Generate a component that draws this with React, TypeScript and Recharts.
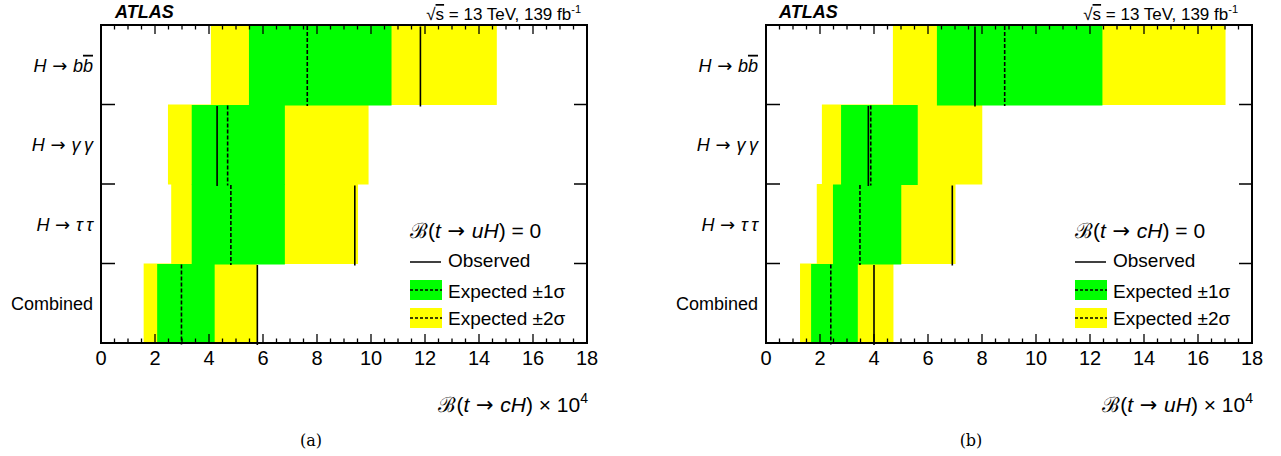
import React from 'react';
import { BarChart, Bar, XAxis, YAxis } from 'recharts';

// channel order, top to bottom
const channels = ['bb', 'gg', 'tt', 'comb'];

// (a) B(t -> cH) x 10^4, with B(t -> uH) = 0
const observedA = [11.83, 4.3, 9.4, 5.79];
const expectedA = [7.64, 4.69, 4.81, 2.98];
const minus1A = [5.48, 3.36, 3.36, 2.08];
const plus1A = [10.76, 6.81, 6.81, 4.21];
const minus2A = [4.07, 2.48, 2.6, 1.58];
const plus2A = [14.66, 9.91, 9.52, 5.79];

// (b) B(t -> uH) x 10^4, with B(t -> cH) = 0
const observedB = [7.74, 3.79, 6.9, 4.0];
const expectedB = [8.84, 3.88, 3.48, 2.4];
const minus1B = [6.33, 2.78, 2.48, 1.67];
const plus1B = [12.46, 5.62, 5.01, 3.4];
const minus2B = [4.7, 2.07, 1.88, 1.26];
const plus2B = [17.02, 8.01, 7.02, 4.72];

const majorTicks = [0, 2, 4, 6, 8, 10, 12, 14, 16, 18];
const minorTicks = Array.from({ length: 37 }, (_, i) => i * 0.5);

const FONT = '"Liberation Sans", Arial, Helvetica, sans-serif';
const GREEN = '#00ff00';
const YELLOW = '#ffff00';

const buildRows = (obs: number[], exp: number[], m1: number[], p1: number[], m2: number[], p2: number[]) =>
  channels.map((name, i) => ({
    name,
    band2: [m2[i], p2[i]],
    band1: [m1[i], p1[i]],
    obs: obs[i],
    exp: exp[i],
  }));

const rowsA = buildRows(observedA, expectedA, minus1A, plus1A, minus2A, plus2A);
const rowsB = buildRows(observedB, expectedB, minus1B, plus1B, minus2B, plus2B);

const it = { fontStyle: 'italic' as const };
const arrow = <tspan fontFamily='"DejaVu Sans", sans-serif'>{' \u2192 '}</tspan>;

const channelLabel = (name: string) => {
  if (name === 'bb')
    return (
      <>
        <tspan style={it}>H</tspan>{arrow}<tspan style={it}>b</tspan>
        <tspan style={{ ...it, textDecoration: 'overline' }}>b</tspan>
      </>
    );
  if (name === 'gg')
    return (
      <>
        <tspan style={it}>H</tspan>{arrow}<tspan style={it}>{'\u03b3\u2009\u03b3'}</tspan>
      </>
    );
  if (name === 'tt')
    return (
      <>
        <tspan style={it}>H</tspan>{arrow}<tspan style={it}>{'\u03c4\u2009\u03c4'}</tspan>
      </>
    );
  return 'Combined';
};

// draws only the far edge of a bar: a vertical line across the whole band
const edge = (dashed: boolean) => (props: any) => {
  const { x, y, width, height } = props;
  const ex = x + width;
  return (
    <line
      x1={ex}
      x2={ex}
      y1={y}
      y2={y + height}
      stroke="#000"
      strokeWidth={1.6}
      strokeDasharray={dashed ? '4 2' : undefined}
    />
  );
};

const BottomTick = (props: any) => {
  const { x, y, payload } = props;
  const major = majorTicks.includes(payload.value);
  return (
    <g>
      <line x1={x} x2={x} y1={y} y2={y - (major ? 9 : 4.5)} stroke="#000" strokeWidth={1.3} />
      {major && (
        <text x={x} y={y + 22} textAnchor="middle" fontSize={20} fontFamily={FONT} fill="#000">
          {payload.value}
        </text>
      )}
    </g>
  );
};

const TopTick = (props: any) => {
  const { x, y, payload } = props;
  const major = majorTicks.includes(payload.value);
  return <line x1={x} x2={x} y1={y} y2={y + (major ? 9 : 4.5)} stroke="#000" strokeWidth={1.3} />;
};

const LeftTick = (props: any) => {
  const { x, y, payload, index } = props;
  const half = payload.offset ?? 39.75;
  return (
    <g>
      {index < channels.length - 1 && (
        <line x1={x} x2={x + 14} y1={y + half} y2={y + half} stroke="#000" strokeWidth={1.5} />
      )}
      <text x={x - 8} y={y + 7} textAnchor="end" fontSize={18} fontFamily={FONT} fill="#000">
        {channelLabel(payload.value)}
      </text>
    </g>
  );
};

const RightTick = (props: any) => {
  const { x, y, payload, index } = props;
  const half = payload.offset ?? 39.75;
  if (index >= channels.length - 1) return <g />;
  return <line x1={x} x2={x - 13} y1={y + half} y2={y + half} stroke="#000" strokeWidth={1.5} />;
};

const axisLine = { stroke: '#000', strokeWidth: 2 };

const Panel = ({ rows, leftWidth, rightWidth, width }: any) => (
  <BarChart
    width={width}
    height={456}
    data={rows}
    layout="vertical"
    barCategoryGap={0}
    barGap="-100%"
    margin={{ top: 0, right: 0, bottom: 0, left: 0 }}
  >
    <XAxis
      xAxisId="bottom"
      type="number"
      domain={[0, 18]}
      allowDataOverflow
      ticks={minorTicks}
      interval={0}
      height={113}
      tickSize={0}
      tickMargin={0}
      tickLine={false}
      stroke="#000"
      axisLine={axisLine}
      tick={<BottomTick />}
    />
    <XAxis
      xAxisId="top"
      orientation="top"
      type="number"
      domain={[0, 18]}
      allowDataOverflow
      ticks={minorTicks}
      interval={0}
      height={25}
      tickSize={0}
      tickMargin={0}
      tickLine={false}
      stroke="#000"
      axisLine={axisLine}
      tick={<TopTick />}
    />
    <YAxis
      yAxisId="left"
      type="category"
      dataKey="name"
      width={leftWidth}
      tickSize={0}
      tickMargin={0}
      tickLine={false}
      interval={0}
      stroke="#000"
      axisLine={axisLine}
      tick={<LeftTick />}
    />
    <YAxis
      yAxisId="right"
      orientation="right"
      type="category"
      dataKey="name"
      width={rightWidth}
      tickSize={0}
      tickMargin={0}
      tickLine={false}
      interval={0}
      stroke="#000"
      axisLine={axisLine}
      tick={<RightTick />}
    />
    <Bar xAxisId="bottom" yAxisId="left" dataKey="band2" fill={YELLOW} isAnimationActive={false} />
    <Bar xAxisId="bottom" yAxisId="left" dataKey="band1" fill={GREEN} isAnimationActive={false} />
    <Bar xAxisId="bottom" yAxisId="left" dataKey="exp" shape={edge(true)} isAnimationActive={false} />
    <Bar xAxisId="bottom" yAxisId="left" dataKey="obs" shape={edge(false)} isAnimationActive={false} />
  </BarChart>
);

const Decor = ({ left, right, atlasX, energyX, xVar, fixedVar, caption, captionX }: any) => {
  const lx = left + 309;
  return (
    <g fontFamily={FONT} fill="#000">
      {/* plot frame */}
      <rect x={left} y={25} width={right - left} height={318} fill="none" stroke="#000" strokeWidth={2} />
      <text x={atlasX} y={18} fontSize={18} fontWeight="bold" fontStyle="italic">
        ATLAS
      </text>
      <text x={energyX} y={20} fontSize={17} textAnchor="end">
        {'\u221a'}
        <tspan style={{ textDecoration: 'overline' }}>s</tspan>
        {' = 13 TeV, 139 fb'}
        <tspan dy={-7} fontSize={11}>
          -1
        </tspan>
      </text>
      <text x={lx} y={238} fontSize={21}>
        {'\u212c('}
        <tspan style={it}>t</tspan>
        {arrow}
        <tspan style={it}>{fixedVar}H</tspan>
        {') = 0'}
      </text>
      <line x1={lx} x2={lx + 31} y1={262} y2={262} stroke="#000" strokeWidth={1.5} />
      <text x={lx + 38} y={267} fontSize={19}>
        Observed
      </text>
      <rect x={lx} y={280} width={32} height={20} fill={GREEN} />
      <line x1={lx} x2={lx + 32} y1={290} y2={290} stroke="#000" strokeWidth={1.5} strokeDasharray="3 2" />
      <text x={lx + 38} y={298} fontSize={19}>
        {'Expected \u00b11\u03c3'}
      </text>
      <rect x={lx} y={308} width={32} height={20} fill={YELLOW} />
      <line x1={lx} x2={lx + 32} y1={318} y2={318} stroke="#000" strokeWidth={1.5} strokeDasharray="3 2" />
      <text x={lx + 38} y={325} fontSize={19}>
        {'Expected \u00b12\u03c3'}
      </text>
      <text x={right + 1} y={412} fontSize={21} textAnchor="end">
        {'\u212c('}
        <tspan style={it}>t</tspan>
        {arrow}
        <tspan style={it}>{xVar}H</tspan>
        {') \u00d7 10'}
        <tspan dy={-9} fontSize={14}>
          4
        </tspan>
      </text>
      <text
        x={captionX}
        y={446}
        fontSize={16}
        textAnchor="middle"
        fontFamily='"DejaVu Serif", "Liberation Serif", serif'
      >
        {caption}
      </text>
    </g>
  );
};

export default function App() {
  return (
    <div style={{ position: 'absolute', left: 0, top: 0, width: 1281, height: 456, background: '#fff' }}>
      <div style={{ position: 'absolute', left: 0, top: 0 }}>
        <Panel rows={rowsA} width={640} leftWidth={101} rightWidth={53} />
      </div>
      <div style={{ position: 'absolute', left: 640, top: 0 }}>
        <Panel rows={rowsB} width={641} leftWidth={126} rightWidth={29} />
      </div>
      <svg
        width={1281}
        height={456}
        style={{ position: 'absolute', left: 0, top: 0, pointerEvents: 'none' }}
      >
        <Decor left={101} right={587} atlasX={115} energyX={581} xVar="c" fixedVar="u" caption="(a)" captionX={311} />
        <Decor left={766} right={1252} atlasX={779} energyX={1238} xVar="u" fixedVar="c" caption="(b)" captionX={971} />
      </svg>
    </div>
  );
}
